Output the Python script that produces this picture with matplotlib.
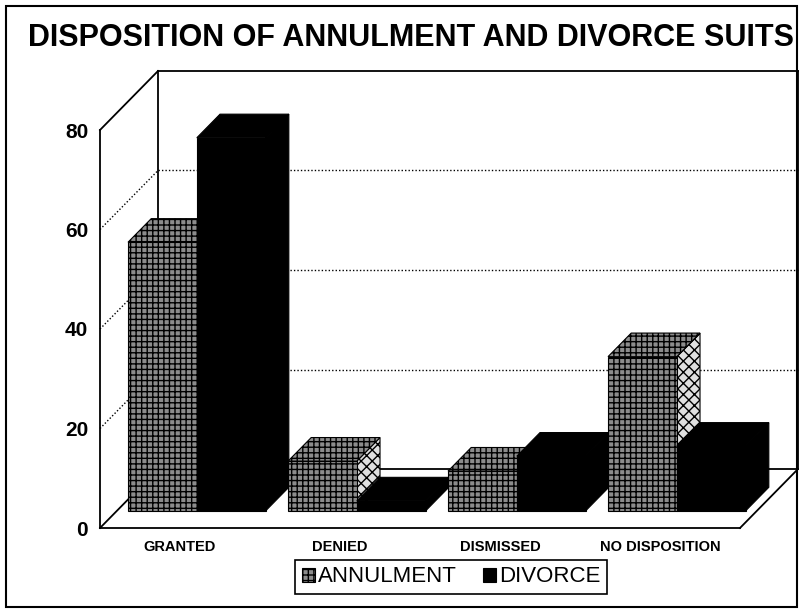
import numpy as np
import matplotlib.pyplot as plt
from matplotlib.patches import Polygon, Rectangle, Patch

categories = ['GRANTED', 'DENIED', 'DISMISSED', 'NO DISPOSITION']
annulment = [54, 10, 8, 31]
divorce = [75, 2, 11, 13]
series_names = ['ANNULMENT', 'DIVORCE']
y_ticks = [0, 20, 40, 60, 80]
title = 'DISPOSITION OF ANNULMENT AND DIVORCE SUITS'

plt.rcParams['font.family'] = ['Liberation Sans', 'DejaVu Sans']
plt.rcParams['hatch.linewidth'] = 1.0

W, H = 799, 614
fig = plt.figure(figsize=(W / 100, H / 100), dpi=100)
# front plane of the box (pixels 100..740 x 130..528)
ax = fig.add_axes([100 / W, 1 - 528 / H, 640 / W, 398 / H])
n = len(categories)
ymax = y_ticks[-1]
ax.set_xlim(0, n)
ax.set_ylim(0, ymax)
ax.patch.set_visible(False)

# depth vector of the box in data units
DU = 58 / 160
DV = 59 * ymax / 398


def proj(u, v, w):
    return (u + w * DU, v + w * DV)


def face(pts, z, **kw):
    ax.add_patch(Polygon([proj(*q) for q in pts], closed=True,
                         clip_on=False, zorder=z, **kw))


def line(a, b, **kw):
    (x0, y0), (x1, y1) = proj(*a), proj(*b)
    ax.plot([x0, x1], [y0, y1], color='black', clip_on=False, zorder=1, **kw)


# walls
solid = dict(lw=1.3)
line((0, ymax, 0), (0, ymax, 1), **solid)
line((0, 0, 0), (0, 0, 1), **solid)
line((0, 0, 1), (0, ymax, 1), **solid)
line((0, ymax, 1), (n, ymax, 1), **solid)
line((n, 0, 1), (n, ymax, 1), **solid)
line((n, 0, 0), (n, 0, 1), **solid)
line((0, 0, 1), (n, 0, 1), **solid)
for v in y_ticks[1:-1]:
    line((0, v, 0), (0, v, 1), lw=1.0, ls=(0, (1, 1.5)))
    line((0, v, 1), (n, v, 1), lw=1.0, ls=(0, (1, 1.5)))

# bars
bar_w = 0.43
w0, w1 = 0.29, 0.69
ann_front = dict(facecolor='#8c8c8c', edgecolor='black', hatch='+++', lw=0.8)
ann_side = dict(facecolor='#e0e0e0', edgecolor='black', hatch='xxx', lw=0.8)
div_face = dict(facecolor='black', edgecolor='black', lw=0.8)
styles = [(ann_front, ann_side), (div_face, div_face)]
z = 3
for i in range(n):
    for j, vals in enumerate([annulment, divorce]):
        u0 = i + 0.5 - bar_w + j * bar_w
        u1 = u0 + bar_w
        h = vals[i]
        fst, sst = styles[j]
        face([(u1, 0, w0), (u1, 0, w1), (u1, h, w1), (u1, h, w0)], z, **sst)
        face([(u0, h, w0), (u1, h, w0), (u1, h, w1), (u0, h, w1)], z, **fst)
        face([(u0, 0, w0), (u1, 0, w0), (u1, h, w0), (u0, h, w0)], z, **fst)
        z += 1

ax.set_yticks(y_ticks)
ax.set_yticklabels([str(t) for t in y_ticks], fontsize=15, fontweight='bold')
ax.set_xticks(np.arange(n) + 0.5)
ax.set_xticklabels(categories, fontsize=10.5, fontweight='bold')
ax.tick_params(axis='y', length=0, pad=8.5)
ax.tick_params(axis='x', length=0, pad=8.5)
for s in ['top', 'right']:
    ax.spines[s].set_visible(False)
for s in ['left', 'bottom']:
    ax.spines[s].set_linewidth(1.3)

handles = [Patch(**ann_front), Patch(**div_face)]
leg = fig.legend(handles, series_names, loc='center',
                 bbox_to_anchor=(451 / W, 1 - 577 / H), ncol=2, fontsize=16,
                 frameon=True, fancybox=False, edgecolor='black', framealpha=1,
                 handlelength=0.6, handleheight=0.6, handletextpad=0.1,
                 columnspacing=1.2, borderpad=0.3, borderaxespad=0)
leg.get_frame().set_linewidth(1.2)

fig.text(411 / W, 1 - 38 / H, title, ha='center', va='center',
         fontsize=22, fontweight='bold')

fig.add_artist(Rectangle((6 / W, 1 - 607 / H), 791 / W, 601 / H,
                         transform=fig.transFigure, fill=False, lw=1.5,
                         ec='black'))

fig.savefig('out.png', dpi=100)
